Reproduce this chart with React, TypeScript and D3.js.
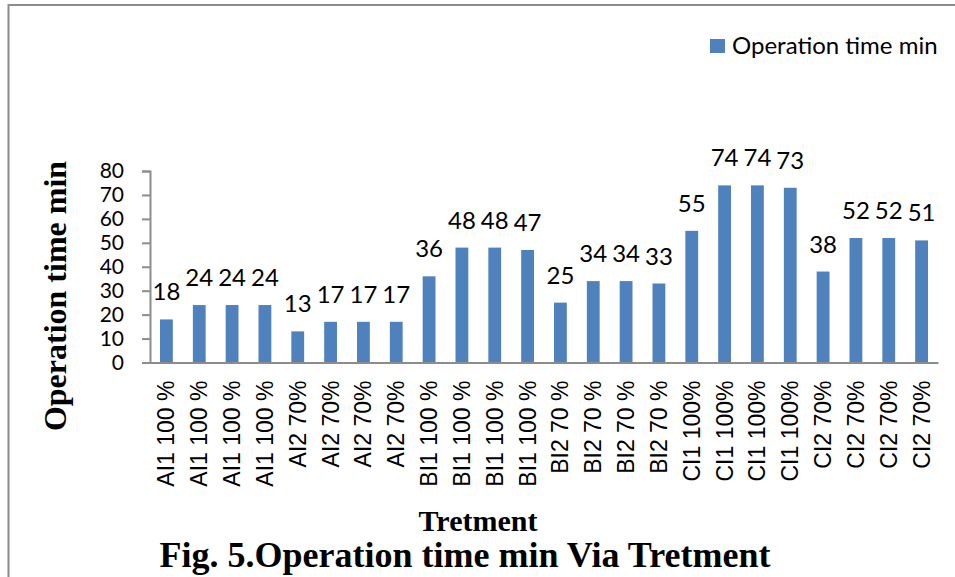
import React, { useEffect, useRef } from "react";
import * as d3 from "d3";

// category labels
const treatments = [
  "AI1 100 %", "AI1 100 %", "AI1 100 %", "AI1 100 %",
  "AI2 70%", "AI2 70%", "AI2 70%", "AI2 70%",
  "BI1 100 %", "BI1 100 %", "BI1 100 %", "BI1 100 %",
  "BI2 70 %", "BI2 70 %", "BI2 70 %", "BI2 70 %",
  "CI1 100%", "CI1 100%", "CI1 100%", "CI1 100%",
  "CI2 70%", "CI2 70%", "CI2 70%", "CI2 70%",
];
const operationTime = [18, 24, 24, 24, 13, 17, 17, 17, 36, 48, 48, 47, 25, 34, 34, 33, 55, 74, 74, 73, 38, 52, 52, 51];
const yTicks = [0, 10, 20, 30, 40, 50, 60, 70, 80];
const seriesName = "Operation time min";

const W = 955;
const H = 577;
const barColor = "#4F81BD";
const axisColor = "#8c8c8c";

const App = () => {
  const ref = useRef<SVGSVGElement | null>(null);

  useEffect(() => {
    const svg = d3.select(ref.current);
    svg.selectAll("*").remove();

    const x = d3
      .scaleBand<number>()
      .domain(treatments.map((_, i) => i))
      .range([150, 938])
      .paddingInner(0.61)
      .paddingOuter(0.305);
    const y = d3.scaleLinear().domain([0, 80]).range([362.5, 171]);

    // outer frame
    svg.append("line").attr("x1", 8.5).attr("x2", 8.5).attr("y1", 4).attr("y2", H)
      .attr("stroke", axisColor).attr("stroke-width", 2);
    svg.append("line").attr("x1", 8).attr("x2", W).attr("y1", 5).attr("y2", 5)
      .attr("stroke", axisColor).attr("stroke-width", 2);

    // bars
    svg.append("g")
      .selectAll("rect")
      .data(operationTime)
      .enter()
      .append("rect")
      .attr("x", (_, i) => x(i)!)
      .attr("width", x.bandwidth())
      .attr("y", (d) => y(d))
      .attr("height", (d) => y(0) - y(d))
      .attr("fill", barColor);

    // data labels
    svg.append("g")
      .selectAll("text")
      .data(operationTime)
      .enter()
      .append("text")
      .attr("x", (_, i) => x(i)! + x.bandwidth() / 2)
      .attr("y", (d) => y(d) - 19)
      .attr("text-anchor", "middle")
      .style("font-family", "Lato, 'Open Sans', sans-serif")
      .style("font-size", "24px")
      .attr("fill", "#000")
      .text((d) => d);

    // y axis
    const yAxis = svg.append("g")
      .attr("transform", "translate(150,0)")
      .call(d3.axisLeft(y).tickValues(yTicks).tickSize(8).tickPadding(18));
    yAxis.select(".domain").attr("stroke", axisColor).attr("stroke-width", 2);
    yAxis.selectAll(".tick line").attr("stroke", axisColor).attr("stroke-width", 2);
    yAxis.selectAll(".tick text")
      .style("font-family", "Lato, 'Open Sans', sans-serif")
      .style("font-size", "21px")
      .attr("fill", "#000");

    // x axis
    const xAxis = svg.append("g")
      .attr("transform", `translate(0,${y(0)})`)
      .call(d3.axisBottom(x).tickSize(0).tickFormat((i) => treatments[i as number]));
    xAxis.select(".domain").attr("stroke", axisColor).attr("stroke-width", 2);
    xAxis.selectAll(".tick text")
      .attr("transform", "translate(0,18) rotate(-90)")
      .attr("x", 0)
      .attr("y", 0)
      .attr("dy", "0.35em")
      .attr("text-anchor", "end")
      .style("font-family", "'Liberation Sans', Arial, sans-serif")
      .style("font-size", "23px")
      .attr("fill", "#000");

    // axis titles
    svg.append("text")
      .attr("transform", "translate(55,296) rotate(-90)")
      .attr("dy", "0.35em")
      .attr("text-anchor", "middle")
      .style("font-family", "'Liberation Serif', 'Times New Roman', serif")
      .style("font-weight", "bold")
      .style("font-size", "32px")
      .text("Operation time min");

    svg.append("text")
      .attr("x", 478)
      .attr("y", 531)
      .attr("text-anchor", "middle")
      .style("font-family", "'Liberation Serif', 'Times New Roman', serif")
      .style("font-weight", "bold")
      .style("font-size", "30px")
      .text("Tretment");

    svg.append("text")
      .attr("x", 465)
      .attr("y", 567)
      .attr("text-anchor", "middle")
      .style("font-family", "'Liberation Serif', 'Times New Roman', serif")
      .style("font-weight", "bold")
      .style("font-size", "36px")
      .text("Fig. 5.Operation time min Via Tretment");

    // legend
    const legend = svg.append("g").attr("transform", "translate(710,39)");
    legend.append("rect").attr("width", 15).attr("height", 14).attr("fill", barColor);
    legend.append("text")
      .attr("x", 22)
      .attr("y", 15)
      .style("font-family", "Lato, 'Open Sans', sans-serif")
      .style("font-size", "24px")
      .text(seriesName);
  }, []);

  return (
    <svg
      ref={ref}
      width={W}
      height={H}
      style={{ position: "absolute", left: 0, top: 0, background: "#fff", display: "block" }}
    />
  );
};

export default App;
